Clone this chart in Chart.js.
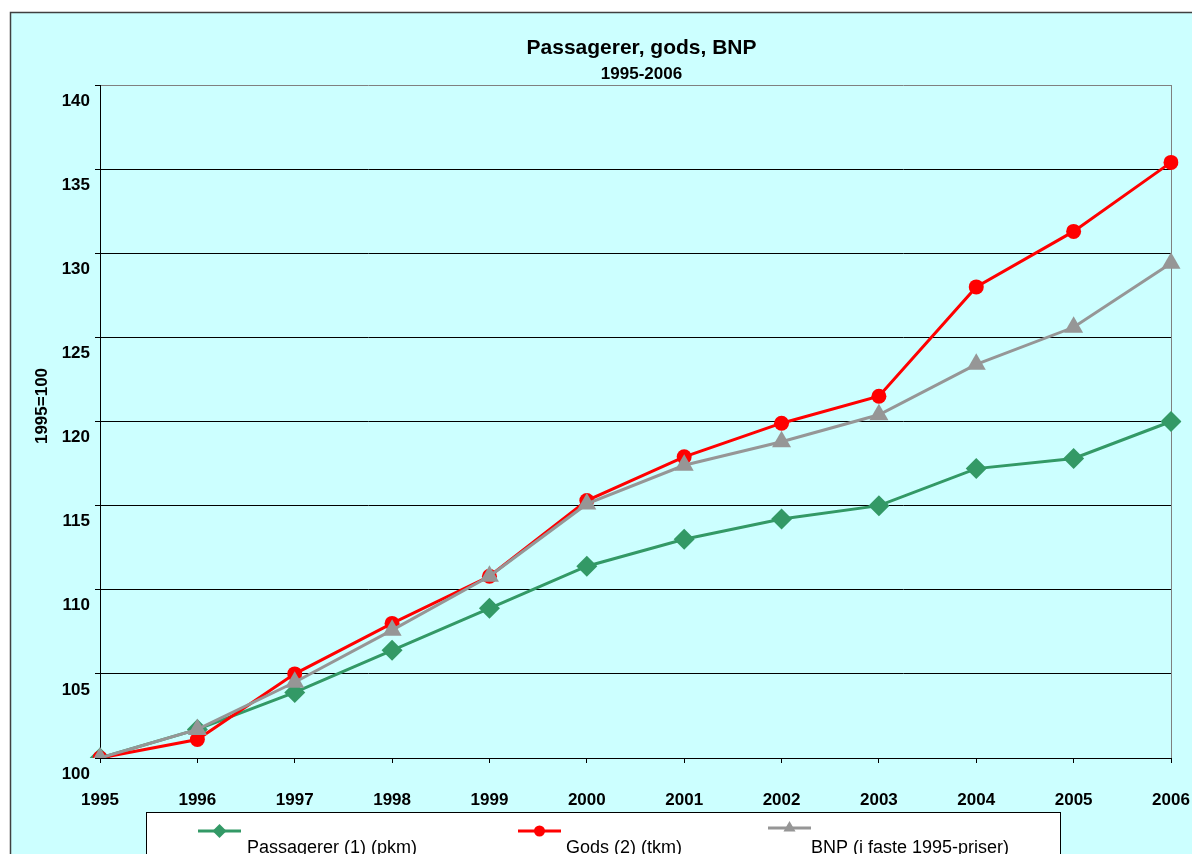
<!DOCTYPE html>
<html>
<head>
<meta charset="utf-8">
<script src="https://cdn.jsdelivr.net/npm/chart.js@4/dist/chart.umd.min.js"></script>
<style>
  html, body { margin: 0; padding: 0; background: #fff; }
  #wrap { position: relative; width: 1192px; height: 854px; }
</style>
</head>
<body>
<div id="wrap"><canvas id="chart"></canvas></div>
<script>
// Data (index, 1995 = 100)
const years = ["1995", "1996", "1997", "1998", "1999", "2000", "2001", "2002", "2003", "2004", "2005", "2006"];
const passagerer = [100, 101.7, 103.9, 106.4, 108.9, 111.4, 113.0, 114.2, 115.0, 117.2, 117.8, 120.0];
const gods = [100, 101.1, 105.0, 108.0, 110.8, 115.3, 117.9, 119.9, 121.5, 128.0, 131.3, 135.4];
const bnp = [100, 101.7, 104.5, 107.6, 110.8, 115.1, 117.4, 118.8, 120.4, 123.4, 125.6, 129.4];
const seriesNames = ["Passagerer (1) (pkm)", "Gods (2) (tkm)", "BNP (i faste 1995-priser)"];
const chartTitle = "Passagerer, gods, BNP";
const chartSubtitle = "1995-2006";
const yTitle = "1995=100";

const CYAN = "#ccffff";
const FONT = "'Liberation Sans', Arial, sans-serif";

// page background, titles and legend box (Excel style)
const frame = {
  id: "frame",
  beforeDraw(chart) {
    const c = chart.ctx;
    c.save();
    c.fillStyle = "#fff";
    c.fillRect(0, 0, chart.width, chart.height);
    c.fillStyle = CYAN;
    c.fillRect(10, 12, chart.width, chart.height);
    c.strokeStyle = "#404040";
    c.lineWidth = 1.5;
    c.beginPath();
    c.moveTo(10.5, chart.height + 5);
    c.lineTo(10.5, 12.5);
    c.lineTo(chart.width + 5, 12.5);
    c.stroke();
    c.restore();
  },
  afterDraw(chart) {
    const c = chart.ctx;
    const a = chart.chartArea;
    c.save();
    c.fillStyle = "#000";
    c.textAlign = "center";
    c.textBaseline = "middle";
    const cx = (a.left + a.right) / 2 + 6;
    c.font = "bold 21px " + FONT;
    c.fillText(chartTitle, cx, 48);
    c.font = "bold 17px " + FONT;
    c.fillText(chartSubtitle, cx, 74);

    // y axis title
    c.save();
    c.translate(42, 406);
    c.rotate(-Math.PI / 2);
    c.font = "bold 17px " + FONT;
    c.fillText(yTitle, 0, 0);
    c.restore();

    // legend
    c.fillStyle = "#fff";
    c.fillRect(146, 812, 914, 60);
    c.strokeStyle = "#000";
    c.lineWidth = 1;
    c.strokeRect(146.5, 812.5, 914, 60);
    const lx = [198, 518, 768];
    const tx = [247, 566, 811];
    const rr = [7, 5.5, 7];
    chart.data.datasets.forEach((ds, i) => {
      const y = i === 2 ? 828 : 831;
      c.strokeStyle = ds.borderColor;
      c.lineWidth = 3;
      c.beginPath();
      c.moveTo(lx[i], y);
      c.lineTo(lx[i] + 43, y);
      c.stroke();
      c.fillStyle = ds.backgroundColor;
      Chart.helpers.drawPoint(c, { pointStyle: ds.pointStyle, radius: rr[i], borderWidth: 0 }, lx[i] + 21.5, y);
      c.fillStyle = "#000";
      c.font = "18px " + FONT;
      c.textAlign = "left";
      c.textBaseline = "middle";
      c.fillText(ds.label, tx[i], 848);
    });
    c.restore();
  }
};

const mk = (label, data, color, style, r, order) => ({
  label, data, order,
  borderColor: color,
  backgroundColor: color,
  borderWidth: 3,
  pointStyle: style,
  pointRadius: r,
  pointBorderWidth: 0,
  pointHoverRadius: r,
  tension: 0
});

new Chart(document.getElementById("chart"), {
  type: "line",
  data: {
    labels: years,
    datasets: [
      mk(seriesNames[0], passagerer, "#339966", "rectRot", 10.5, 3),
      mk(seriesNames[1], gods, "#ff0000", "circle", 7.5, 2),
      mk(seriesNames[2], bnp, "#969696", "triangle", 11, 1)
    ]
  },
  options: {
    responsive: true,
    maintainAspectRatio: false,
    animation: false,
    layout: { padding: { top: 85, right: 0, left: 0, bottom: 0 } },
    plugins: {
      legend: { display: false },
      title: { display: false },
      tooltip: { enabled: false }
    },
    scales: {
      x: {
        offset: false,
        afterFit: (s) => { s.height = 96; s.paddingRight = 21; s.paddingLeft = 0; },
        grid: {
          color: (ctx) => ctx.index === years.length - 1 ? "#808080" : "rgba(0,0,0,0)",
          tickColor: "#000",
          tickLength: 5,
          lineWidth: 1
        },
        border: { color: "#000", width: 1 },
        ticks: {
          color: "#000",
          font: { family: FONT, size: 17, weight: "bold" },
          padding: 27,
          maxRotation: 0,
          autoSkip: false
        }
      },
      y: {
        min: 100,
        max: 140,
        afterFit: (s) => { s.width = 100; },
        grid: {
          color: (ctx) => ctx.tick && ctx.tick.value === 140 ? "#808080" : "#000",
          tickColor: "#000",
          tickLength: 5,
          lineWidth: 1
        },
        border: { color: "#000", width: 1 },
        ticks: {
          stepSize: 5,
          color: "#000",
          font: { family: FONT, size: 17, weight: "bold" },
          padding: 5,
          labelOffset: 16
        }
      }
    }
  },
  plugins: [frame]
});
</script>
</body>
</html>
